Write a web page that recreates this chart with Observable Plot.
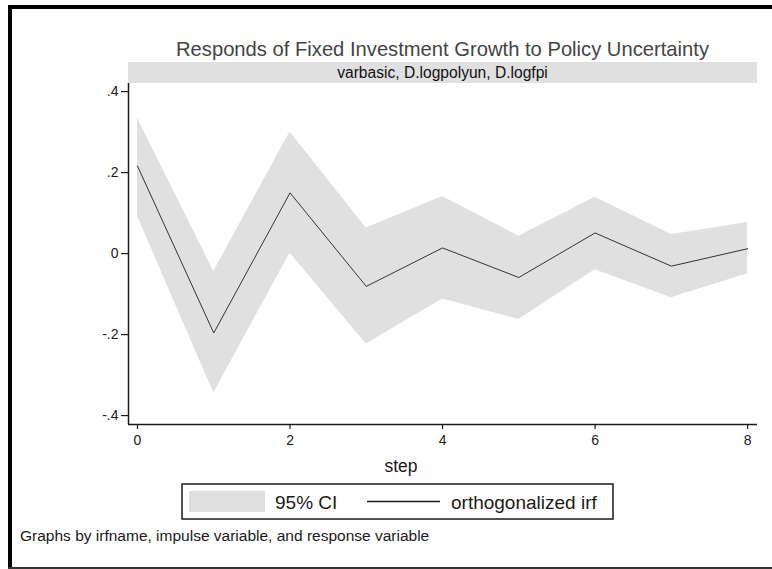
<!DOCTYPE html>
<html>
<head>
<meta charset="utf-8">
<script src="https://cdn.jsdelivr.net/npm/d3@7"></script>
<script src="https://cdn.jsdelivr.net/npm/@observablehq/plot@0.6"></script>
<style>
  html, body { margin: 0; padding: 0; background: #fff; }
  #graph { position: relative; width: 772px; height: 569px; overflow: hidden; }
  #graph svg { display: block; }
</style>
</head>
<body>
<div id="graph"></div>
<script>
// Impulse response of fixed investment growth to a policy uncertainty shock
const steps = [0, 1, 2, 3, 4, 5, 6, 7, 8];
const irf   = [0.216, -0.196, 0.150, -0.081, 0.014, -0.059, 0.051, -0.031, 0.012];
const lower = [0.092, -0.344, 0.001, -0.223, -0.112, -0.163, -0.040, -0.109, -0.050];
const upper = [0.334, -0.044, 0.300, 0.063, 0.141, 0.043, 0.139, 0.047, 0.077];

const yTicks = [-0.4, -0.2, 0, 0.2, 0.4];
const xTicks = [0, 2, 4, 6, 8];

const titleText = "Responds of Fixed Investment Growth to Policy Uncertainty";
const stripText = "varbasic, D.logpolyun, D.logfpi";
const xLabel = "step";
const legendLabels = ["95% CI", "orthogonalized irf"];
const noteText = "Graphs by irfname, impulse variable, and response variable";

const rows = steps.map((s, i) => ({step: s, irf: irf[i], lo: lower[i], hi: upper[i]}));

const FONT = "Arial, 'Liberation Sans', Helvetica, sans-serif";
const bandFill = "#e0e0e0";
const ink = "#1a1a1a";

const xDomain = [-0.118, 8.13];
const yDomain = [-0.422, 0.42];

// Stata-style numbers with a plain hyphen: ".2", "-.4", "0"
const fmt1 = d3.formatLocale({decimal: ".", thousands: ",", grouping: [3], currency: ["", ""], minus: "-"}).format(".1f");
const stataFmt = d => d === 0 ? "0" : fmt1(d).replace("0.", ".");

const W = 772, H = 569;
const M = {top: 83, right: 15, bottom: 145, left: 128};

const chart = Plot.plot({
  width: W,
  height: H,
  marginTop: M.top,
  marginRight: M.right,
  marginBottom: M.bottom,
  marginLeft: M.left,
  style: {fontFamily: FONT, color: ink, background: "transparent", overflow: "visible"},
  x: {domain: xDomain},
  y: {domain: yDomain},
  marks: [
    Plot.areaY(rows, {x: "step", y1: "lo", y2: "hi", fill: bandFill}),
    Plot.lineY(rows, {x: "step", y: "irf", stroke: "#333", strokeWidth: 1}),
    Plot.ruleX([xDomain[0]], {stroke: ink, strokeWidth: 1.5}),
    Plot.ruleY([yDomain[0]], {stroke: ink, strokeWidth: 1.5}),
    Plot.axisY({ticks: yTicks, tickFormat: stataFmt, tickSize: 7, tickPadding: 3, label: null, fontSize: 14, strokeWidth: 1.2}),
    Plot.axisX({ticks: xTicks, tickFormat: d => String(d), tickSize: 5, tickPadding: 6, label: null, fontSize: 14, strokeWidth: 1.2})
  ]
});

document.getElementById("graph").appendChild(chart);

const svg = d3.select(chart);
// tick labels at the graph's text size
svg.selectAll("g[aria-label$='tick label']").style("font-size", "14px").attr("font-size", 14);

// Titles, strip, legend, note and the graph border
const deco = svg.append("g").attr("font-family", FONT).attr("text-anchor", "start");
const plotLeft = M.left, plotRight = W - M.right;
const plotMid = (plotLeft + plotRight) / 2;

// strip with the irf name, impulse and response variables
deco.append("rect")
  .attr("x", plotLeft).attr("y", 62)
  .attr("width", plotRight - plotLeft).attr("height", 21)
  .attr("fill", bandFill);
deco.append("text")
  .attr("x", plotMid).attr("y", 77.5)
  .attr("text-anchor", "middle").attr("font-size", 15.6).attr("fill", "#111")
  .text(stripText);

// title
deco.append("text")
  .attr("x", plotMid).attr("y", 56)
  .attr("text-anchor", "middle").attr("font-size", 20.2).attr("fill", "#444")
  .text(titleText);

// x-axis title
deco.append("text")
  .attr("x", 401).attr("y", 472)
  .attr("text-anchor", "middle").attr("font-size", 17.5).attr("fill", ink)
  .text(xLabel);

// legend box
const lg = deco.append("g");
lg.append("rect")
  .attr("x", 182).attr("y", 484).attr("width", 431).attr("height", 35)
  .attr("fill", "#fff").attr("stroke", ink).attr("stroke-width", 1.5);
lg.append("rect")
  .attr("x", 189).attr("y", 491).attr("width", 76).attr("height", 21)
  .attr("fill", bandFill);
lg.append("text")
  .attr("x", 275).attr("y", 508.5).attr("font-size", 19).attr("fill", ink)
  .text(legendLabels[0]);
lg.append("line")
  .attr("x1", 367).attr("x2", 440).attr("y1", 501.5).attr("y2", 501.5)
  .attr("stroke", ink).attr("stroke-width", 1.5);
lg.append("text")
  .attr("x", 451).attr("y", 508.5).attr("font-size", 19).attr("fill", ink)
  .text(legendLabels[1]);

// note
deco.append("text")
  .attr("x", 20).attr("y", 541).attr("font-size", 15.5).attr("fill", ink)
  .text(noteText);

// graph border (left and top heavy, bottom thin)
deco.append("rect").attr("x", 8).attr("y", 5).attr("width", 4).attr("height", H - 5).attr("fill", "#000");
deco.append("rect").attr("x", 8).attr("y", 5).attr("width", W - 8).attr("height", 4).attr("fill", "#000");
deco.append("rect").attr("x", 8).attr("y", 567).attr("width", W - 8).attr("height", 2).attr("fill", "#333");
</script>
</body>
</html>
